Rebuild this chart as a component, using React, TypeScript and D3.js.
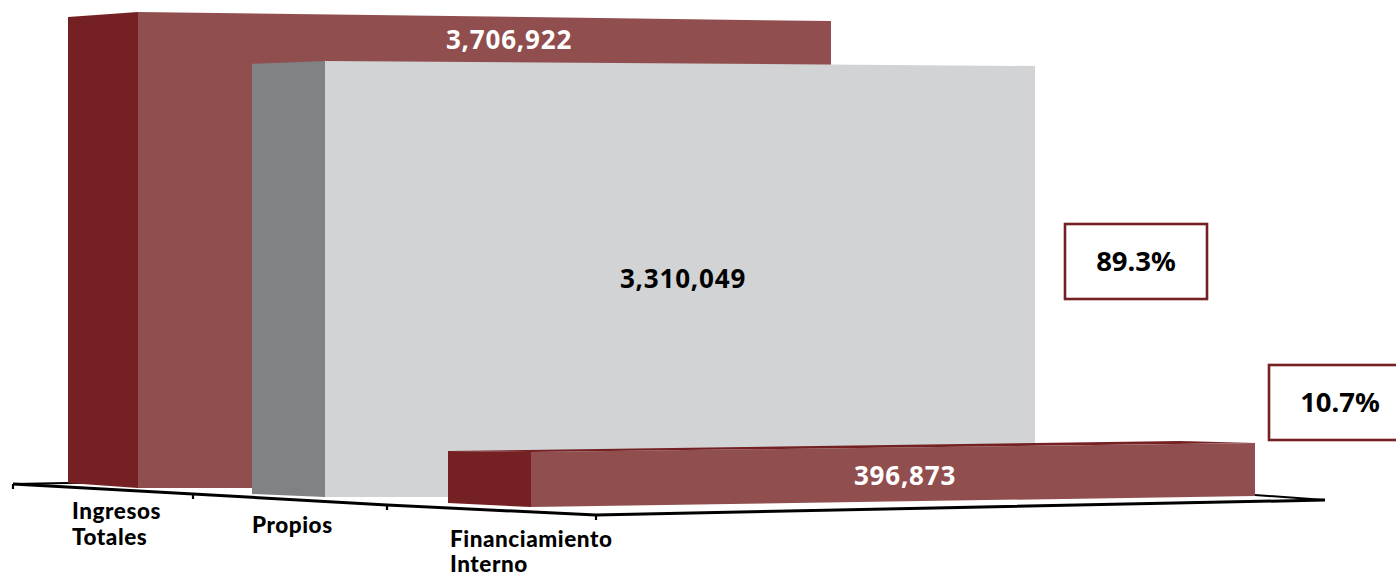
import React from "react";
import * as d3 from "d3";

const categories = [["Ingresos", "Totales"], ["Propios"], ["Financiamiento", "Interno"]];
const values = [3706922, 3310049, 396873];
const valueColors = ["#ffffff", "#000000", "#ffffff"];
const shares = ["89.3%", "10.7%"];

const W = 1396, H = 576;
const sideColors = ["#752123", "#808285", "#752123"];
const frontColors = ["#914e4e", "#d1d3d4", "#914e4e"];
const BORDER = "#752123";

// perspective layout of each box: x of the three vertical edges, floor y and height factor at each
const boxes = [
  { xs: [68, 138, 831], floor: [483, 488, 488], k: [0.979, 1, 0.981], label: [509, 48.5] },
  { xs: [252, 325, 1035], floor: [494, 497, 497], k: [1.012, 1.026, 1.014], label: [683, 287.5] },
  { xs: [448, 531, 1255], floor: [503, 507, 496], k: [1.02, 1.079, 1.04], label: [905, 484.5] },
];
const labelAnchors = [[72, 519], [252, 533], [450, 547]];
const labelGaps = [25.5, 0, 24.5];
const boxesShare = [
  { x: 1065, y: 224, w: 142, h: 75, tx: 1136, ty: 271 },
  { x: 1269, y: 365, w: 140, h: 75, tx: 1340, ty: 412 },
];

const valueScale = d3.scaleLinear().domain([0, d3.max(values) as number]).range([0, 476]);
const axisX = d3.scaleLinear().domain([0, 1, 2, 3]).range([13, 193, 387, 596]);
const axisY = d3.scaleLinear().domain([0, 1, 2, 3]).range([484, 494, 505, 515]);
const line = d3.line<number[]>().x((d) => d[0]).y((d) => d[1]);
const poly = (pts: number[][]) => (line(pts) as string) + "Z";

const VALUE_FONT = "'Noto Sans', sans-serif";
const LABEL_FONT = "Lato, sans-serif";

export default function App() {
  const tickIdx = d3.range(4);
  const axisPts = tickIdx.map((i) => [axisX(i), axisY(i)]);
  return (
    <svg width={W} height={H} viewBox={`0 0 ${W} ${H}`}
      style={{ position: "absolute", left: 0, top: 0, background: "#fff" }}>
      {/* floor outline */}
      <path d={line([[axisX(0), axisY(0)], [880, 468], [1325, 500]]) as string} fill="none" stroke="#000" strokeWidth={2} />
      <path d={line([...axisPts, [1325, 500]]) as string} fill="none" stroke="#000" strokeWidth={3} />
      {tickIdx.map((i) => (
        <line key={i} x1={axisX(i)} x2={axisX(i)} y1={axisY(i)} y2={axisY(i) + 5} stroke="#000" strokeWidth={2.2} />
      ))}
      {boxes.map((b, i) => {
        const h = valueScale(values[i]);
        const top = b.floor.map((f, j) => f - h * b.k[j]);
        const bottom = b.floor;
        const [x0, x1, x2] = b.xs;
        const back = [x2 + (x0 - x1) + 8, top[2] + (top[0] - top[1]) - 1];
        const topVisible = top[0] < top[1];
        return (
          <g key={i}>
            {topVisible && <path d={poly([[x0, top[0]], [x1, top[1]], [x2, top[2]], back])} fill={sideColors[i]} />}
            <path d={poly([[x0, top[0]], [x1, top[1]], [x1, bottom[1]], [x0, bottom[0]]])} fill={sideColors[i]} />
            <path d={poly([[x1, top[1]], [x2, top[2]], [x2, bottom[2]], [x1, bottom[1]]])} fill={frontColors[i]} />
          </g>
        );
      })}
      {boxes.map((b, i) => (
        <text key={i} x={b.label[0]} y={b.label[1]} textAnchor="middle" fill={valueColors[i]}
          fontFamily={VALUE_FONT} fontWeight={700} fontSize={26} letterSpacing={0.8}>
          {d3.format(",")(values[i])}
        </text>
      ))}
      {boxesShare.map((b, i) => (
        <g key={i}>
          <rect x={b.x} y={b.y} width={b.w} height={b.h} fill="#fff" stroke={BORDER} strokeWidth={2.6} />
          <text x={b.tx} y={b.ty} textAnchor="middle" fill="#000" fontFamily={VALUE_FONT} fontWeight={700} fontSize={27.5}>
            {shares[i]}
          </text>
        </g>
      ))}
      {categories.map((lines, i) => (
        <text key={i} fill="#000" fontFamily={LABEL_FONT} fontWeight={900} fontSize={22.5} letterSpacing={0.55}>
          {lines.map((t, j) => (
            <tspan key={j} x={labelAnchors[i][0]} y={labelAnchors[i][1] + j * labelGaps[i]}>{t}</tspan>
          ))}
        </text>
      ))}
    </svg>
  );
}
